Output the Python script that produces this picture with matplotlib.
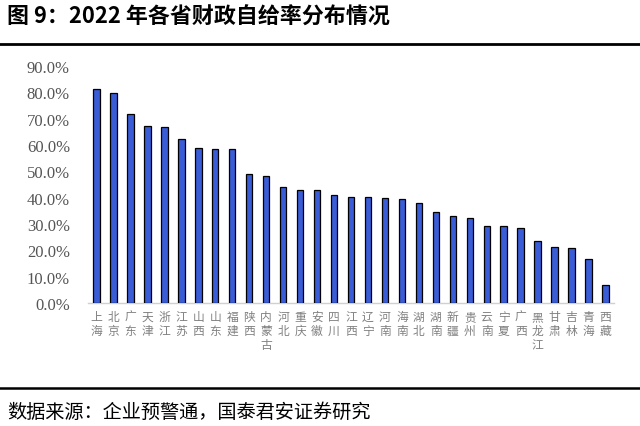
import matplotlib
matplotlib.use("Agg")
import matplotlib.pyplot as plt
from matplotlib.lines import Line2D
from matplotlib.ticker import FuncFormatter

plt.rcParams['font.family'] = ['Noto Sans CJK SC', 'DejaVu Sans']

provinces = ["上海", "北京", "广东", "天津", "浙江", "江苏", "山西", "山东", "福建", "陕西",
             "内蒙古", "河北", "重庆", "安徽", "四川", "江西", "辽宁", "河南", "海南", "湖北",
             "湖南", "新疆", "贵州", "云南", "宁夏", "广西", "黑龙江", "甘肃", "吉林", "青海", "西藏"]
ratio = [81.1, 79.9, 71.9, 67.2, 66.9, 62.2, 58.7, 58.5, 58.5, 49.0,
         48.1, 43.9, 43.0, 42.8, 41.0, 40.4, 40.1, 39.9, 39.6, 38.1,
         34.6, 32.9, 32.2, 29.2, 29.1, 28.6, 23.6, 21.3, 21.0, 16.8, 6.9]
yticks = [0, 10, 20, 30, 40, 50, 60, 70, 80, 90]

title = "图 9：2022 年各省财政自给率分布情况"
source = "数据来源：企业预警通，国泰君安证券研究"

fig = plt.figure(figsize=(6.4, 4.27), dpi=100)
ax = fig.add_axes([88/640, 1-304/427, (614-88)/640, (304-67)/427])

x = list(range(len(provinces)))
ax.bar(x, ratio, width=0.38, color='#3A5CD6', edgecolor='black', linewidth=0.9, zorder=3)

ax.set_xlim(-0.5, len(provinces)-0.5)
ax.set_ylim(0, 90)
ax.set_yticks(yticks)
ax.yaxis.set_major_formatter(FuncFormatter(lambda v, p: f"{v:.1f}%"))
for lab in ax.get_yticklabels():
    lab.set_fontfamily(['Liberation Serif', 'DejaVu Serif'])
    lab.set_fontsize(12)
    lab.set_color('#555555')
ax.tick_params(axis='y', length=0, pad=13)

ax.set_xticks(x)
ax.set_xticklabels(["\n".join(p) for p in provinces], fontsize=8.5, color='#808080',
                   linespacing=1.1, va='top')
ax.tick_params(axis='x', length=0, pad=5)

for s in ['top', 'right', 'left']:
    ax.spines[s].set_visible(False)
ax.spines['bottom'].set_color('#d0d0d0')
ax.spines['bottom'].set_linewidth(1.0)

fig.text(7/640, 1-17/427, title, fontsize=15.8, fontweight='bold', ha='left', va='center',
         color='black')
fig.add_artist(Line2D([0, 1], [1-45/427, 1-45/427], color='black', linewidth=2.0))
fig.add_artist(Line2D([0, 1], [1-389/427, 1-389/427], color='black', linewidth=1.8))
fig.text(7/640, 1-412/427, source, fontsize=13.8, ha='left', va='center', color='black')

fig.savefig("out.png", dpi=100)
